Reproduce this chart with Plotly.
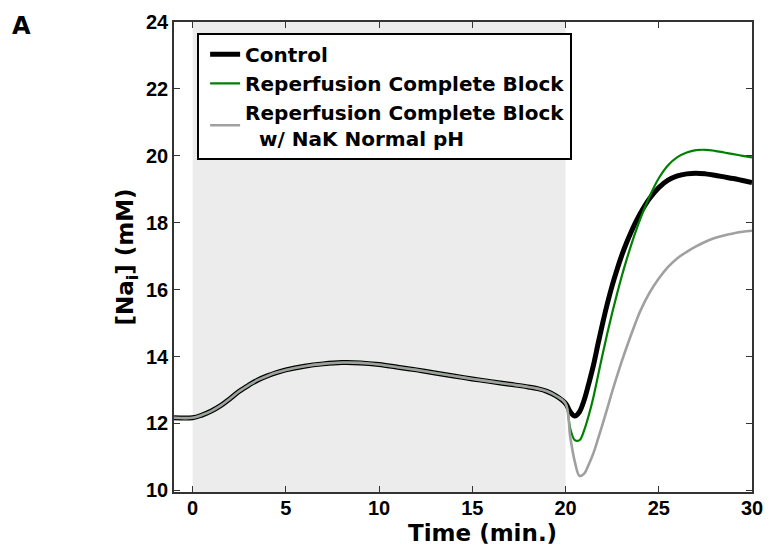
import plotly.graph_objects as go

# ---- data ----
# shared trace during ischemia (all three conditions overlap)
t_isch = [-1, 0, 0.5, 1, 1.5, 2, 2.5, 3, 3.5, 4, 4.5, 5, 6, 7, 8, 9, 10, 11, 12, 13,
          14, 15, 16, 17, 18, 18.5, 19, 19.5, 20]
na_isch = [12.17, 12.17, 12.25, 12.37, 12.53, 12.74, 12.96, 13.14, 13.3, 13.42,
           13.52, 13.6, 13.71, 13.78, 13.82, 13.81, 13.76, 13.68, 13.6, 13.51,
           13.42, 13.33, 13.25, 13.17, 13.09, 13.04, 12.96, 12.82, 12.6]

# reperfusion phase
t_ctrl = [20.25, 20.5, 20.75, 21, 21.25, 21.5, 21.75, 22, 22.25, 22.5, 22.75, 23,
          23.25, 23.5, 23.75, 24, 24.5, 25, 25.5, 26, 26.5, 27, 27.5, 28, 28.5, 29,
          29.5, 30]
na_ctrl = [12.35, 12.22, 12.35, 12.7, 13.2, 13.75, 14.4, 15.02, 15.6, 16.12, 16.58,
           17.0, 17.37, 17.7, 18.0, 18.27, 18.72, 19.05, 19.27, 19.4, 19.46, 19.48,
           19.46, 19.42, 19.37, 19.32, 19.26, 19.2]

t_block = [20.25, 20.5, 20.75, 21, 21.25, 21.5, 21.75, 22, 22.25, 22.5, 22.75, 23,
           23.25, 23.5, 23.75, 24, 24.5, 25, 25.5, 26, 26.5, 27, 27.5, 28, 28.5, 29,
           29.5, 30]
na_block = [11.85, 11.5, 11.5, 11.8, 12.25, 12.8, 13.45, 14.1, 14.72, 15.3, 15.85,
            16.37, 16.85, 17.3, 17.72, 18.1, 18.78, 19.33, 19.72, 19.96, 20.1, 20.17,
            20.18, 20.15, 20.1, 20.05, 20.0, 19.95]

t_nak = [20.25, 20.5, 20.75, 21, 21.25, 21.5, 21.75, 22, 22.25, 22.5, 22.75, 23,
         23.25, 23.5, 23.75, 24, 24.5, 25, 25.5, 26, 26.5, 27, 27.5, 28, 28.5, 29,
         29.5, 30]
na_nak = [11.6, 10.85, 10.43, 10.5, 10.78, 11.12, 11.55, 12.0, 12.47, 12.95, 13.4,
          13.83, 14.24, 14.63, 15.0, 15.35, 15.9, 16.33, 16.68, 16.94, 17.13, 17.29,
          17.43, 17.54, 17.62, 17.68, 17.73, 17.76]

names = ["Control", "Reperfusion Complete Block",
         "Reperfusion Complete Block<br>  w/ NaK Normal pH"]
ischemia = [0, 20]
x_ticks = [0, 5, 10, 15, 20, 25, 30]
y_ticks = [10, 12, 14, 16, 18, 20, 22, 24]

FONT = "Liberation Sans, Arial, sans-serif"
WIDE = "DejaVu Sans, Verdana, sans-serif"

fig = go.Figure()
fig.add_trace(go.Scatter(x=t_isch + t_ctrl, y=na_isch + na_ctrl, mode="lines",
                         name=names[0], line=dict(color="#000000", width=5, shape="spline", smoothing=1.0)))
fig.add_trace(go.Scatter(x=t_isch + t_block, y=na_isch + na_block, mode="lines",
                         name=names[1], line=dict(color="#008000", width=2.2, shape="spline", smoothing=1.0)))
fig.add_trace(go.Scatter(x=t_isch + t_nak, y=na_isch + na_nak, mode="lines",
                         name=names[2], line=dict(color="#a0a0a0", width=2.6, shape="spline", smoothing=1.0)))

fig.add_shape(type="rect", xref="x", yref="paper", x0=ischemia[0], x1=ischemia[1],
              y0=0, y1=1, fillcolor="#ececec", line=dict(width=0), layer="below")

axis_common = dict(showline=True, linecolor="#333333", linewidth=1.5, mirror="ticks",
                   ticks="inside", ticklen=6, tickwidth=1.2, tickcolor="#333333",
                   showgrid=False, zeroline=False,
                   tickfont=dict(family=FONT, size=20, color="#000000", weight="bold"))

fig.update_layout(
    width=775, height=556,
    margin=dict(l=174, r=23, t=22, b=64),
    paper_bgcolor="white", plot_bgcolor="white",
    xaxis=dict(range=[-1, 30], tickvals=x_ticks, ticklabelstandoff=-3, **axis_common),
    yaxis=dict(range=[9.95, 24], tickvals=y_ticks,
               title=dict(text="[Na<sub>i</sub>] (mM)", standoff=6,
                          font=dict(family=WIDE, size=23, color="#000000", weight="bold")),
               **axis_common),
    legend=dict(x=0.04, y=0.977, xanchor="left", yanchor="top",
                bgcolor="white", bordercolor="#000000", borderwidth=2,
                font=dict(family=WIDE, size=20, color="#000000", weight="bold"),
                tracegroupgap=0, itemwidth=30, indentation=6),
    showlegend=True,
    annotations=[
        dict(text="A", xref="paper", yref="paper", x=-0.284, y=1.025,
             xanchor="left", yanchor="top", showarrow=False,
             font=dict(family=WIDE, size=24, color="#000000", weight="bold")),
        dict(text="Time (min.)", xref="paper", yref="paper", x=0.533, y=-0.087,
             xanchor="center", yanchor="middle", showarrow=False,
             font=dict(family=WIDE, size=23, color="#000000", weight="bold")),
    ],
)

fig.write_html("out.html")
